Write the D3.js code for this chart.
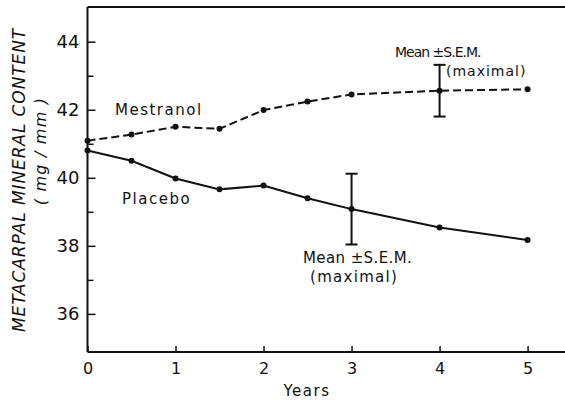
<!DOCTYPE html>
<html><head><meta charset="utf-8">
<script src="https://cdn.jsdelivr.net/npm/d3@7"></script>
<style>
body{margin:0;background:#fff;}
text{font-family:"DejaVu Sans",sans-serif;fill:#111;}
</style></head>
<body><svg id="c" width="565" height="400"></svg>
<script>
const years = [0, 0.5, 1, 1.5, 2, 2.5, 3, 4, 5];
const mestranol = [41.09, 41.27, 41.50, 41.44, 41.99, 42.24, 42.45, 42.56, 42.60];
const placebo = [40.80, 40.50, 39.98, 39.66, 39.77, 39.40, 39.08, 38.54, 38.17];
const xTicks = [0, 1, 2, 3, 4, 5];
const yMajor = [36, 38, 40, 42, 44];
const yMinor = [37, 39, 41, 43];
// error bars: [year, mean, sem]
const errMestranol = [4, 42.56, 0.76];
const errPlacebo = [3, 39.08, 1.04];

const svg = d3.select("#c");
const x = d3.scaleLinear().domain([0, 5.425]).range([87.5, 565]);
const y = d3.scaleLinear().domain([34.88, 45.02]).range([352, 7]);

// axes lines
svg.append("line").attr("x1", x(0)).attr("x2", 565).attr("y1", 352).attr("y2", 352).attr("stroke", "#111").attr("stroke-width", 2);
svg.append("line").attr("x1", x(0)).attr("x2", x(0)).attr("y1", 7).attr("y2", 352).attr("stroke", "#111").attr("stroke-width", 2);
svg.append("line").attr("x1", x(0)).attr("x2", 565).attr("y1", 7).attr("y2", 7).attr("stroke", "#111").attr("stroke-width", 2);

// x axis ticks inward
const xAxis = d3.axisBottom(x).tickValues(xTicks).tickSize(-6).tickPadding(11).tickFormat(d3.format("d"));
const gx = svg.append("g").attr("transform", "translate(0,352)").call(xAxis);
gx.select(".domain").remove();
gx.selectAll("line").attr("stroke", "#111").attr("stroke-width", 1.5);
gx.selectAll("text").attr("font-size", 16).attr("fill", "#111").attr("font-family", "DejaVu Sans, sans-serif");

// y axis major ticks inward
const yAxis = d3.axisLeft(y).tickValues(yMajor).tickSize(-8).tickPadding(8).tickFormat(d3.format("d"));
const gy = svg.append("g").attr("transform", `translate(${x(0)},0)`).call(yAxis);
gy.select(".domain").remove();
gy.selectAll("line").attr("stroke", "#111").attr("stroke-width", 1.5);
gy.selectAll("text").attr("font-size", 18).attr("fill", "#111").attr("font-family", "DejaVu Sans, sans-serif");

const yAxisMinor = d3.axisLeft(y).tickValues(yMinor).tickSize(-6).tickFormat("");
const gym = svg.append("g").attr("transform", `translate(${x(0)},0)`).call(yAxisMinor);
gym.select(".domain").remove();
gym.selectAll("line").attr("stroke", "#111").attr("stroke-width", 1.5);

// axis titles
svg.append("text").attr("x", 307).attr("y", 396).attr("text-anchor", "middle").attr("font-size", 15).attr("letter-spacing", 1.5).text("Years");
svg.append("text").attr("transform", "translate(25,180) rotate(-90)").attr("text-anchor", "middle")
  .attr("font-size", 17).attr("font-style", "italic").attr("letter-spacing", 0.9).text("METACARPAL MINERAL CONTENT");
svg.append("text").attr("transform", "translate(46,151) rotate(-90)").attr("text-anchor", "middle")
  .attr("font-size", 16).attr("font-style", "italic").attr("letter-spacing", 1.2).text("( mg / mm )");

const line = d3.line().x((d, i) => x(years[i])).y(d => y(d));

svg.append("path").datum(mestranol).attr("d", line).attr("fill", "none").attr("stroke", "#111").attr("stroke-width", 2).attr("stroke-dasharray", "8,4");
svg.append("path").datum(placebo).attr("d", line).attr("fill", "none").attr("stroke", "#111").attr("stroke-width", 2);

[mestranol, placebo].forEach(s => {
  svg.append("g").selectAll("circle").data(s).join("circle")
    .attr("cx", (d, i) => x(years[i])).attr("cy", d => y(d)).attr("r", 3).attr("fill", "#111");
});

// error bars
[errMestranol, errPlacebo].forEach(([yr, m, s]) => {
  const g = svg.append("g").attr("stroke", "#111").attr("stroke-width", 2);
  g.append("line").attr("x1", x(yr)).attr("x2", x(yr)).attr("y1", y(m + s)).attr("y2", y(m - s));
  g.append("line").attr("x1", x(yr) - 6).attr("x2", x(yr) + 6).attr("y1", y(m + s)).attr("y2", y(m + s));
  g.append("line").attr("x1", x(yr) - 6).attr("x2", x(yr) + 6).attr("y1", y(m - s)).attr("y2", y(m - s));
});

// annotations
const ann = [
  {t: "Mestranol", x: 115, y: 115, fs: 15, ls: 1.5},
  {t: "Placebo", x: 122, y: 204, fs: 15, ls: 1.5},
  {t: "Mean \u00B1S.E.M.", x: 395, y: 57, fs: 14, ls: -1},
  {t: "(maximal)", x: 446, y: 76, fs: 14, ls: 1},
  {t: "Mean \u00B1S.E.M.", x: 303, y: 263, fs: 15, ls: 0.4},
  {t: "(maximal)", x: 310, y: 282, fs: 15, ls: 1.3}
];
svg.append("g").selectAll("text").data(ann).join("text")
  .attr("x", d => d.x).attr("y", d => d.y).attr("text-anchor", "start")
  .attr("font-size", d => d.fs).attr("letter-spacing", d => d.ls).text(d => d.t);
</script></body></html>
